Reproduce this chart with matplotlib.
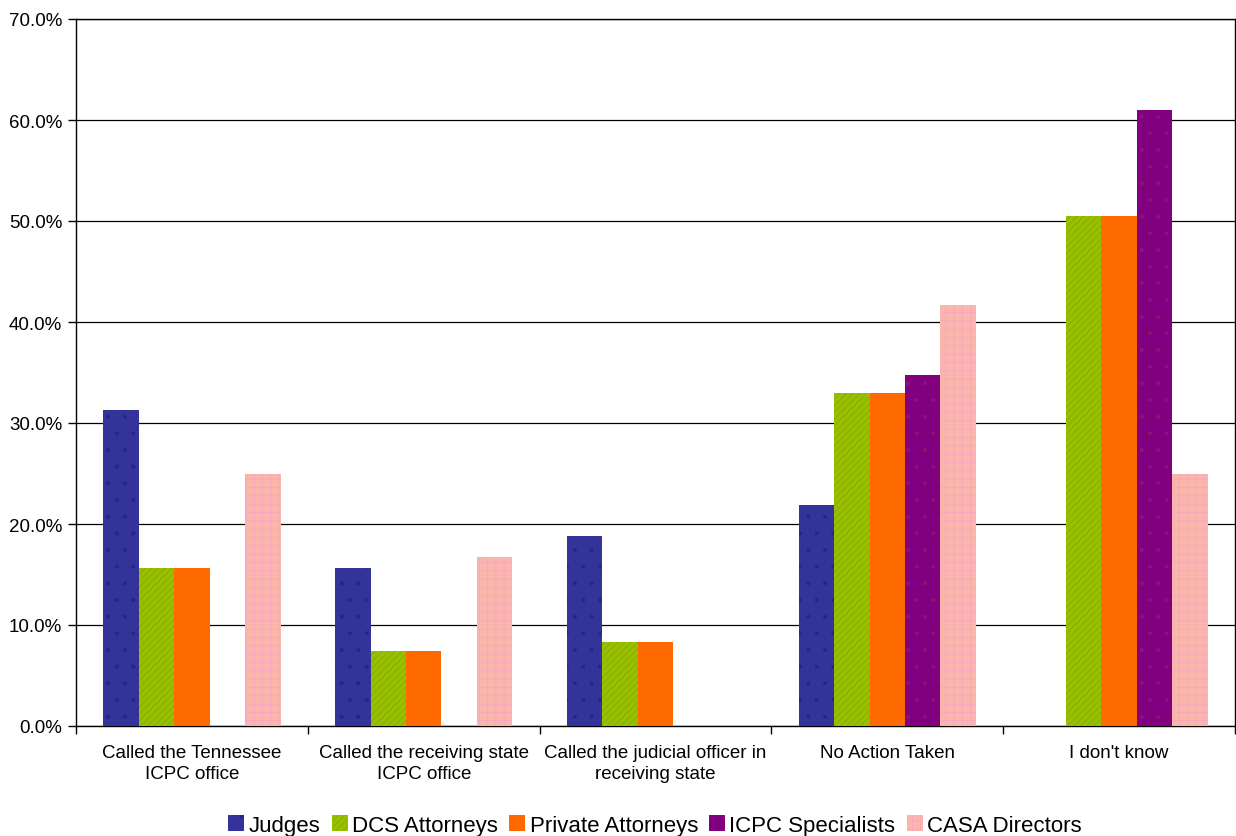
import numpy as np
import matplotlib.pyplot as plt
from matplotlib.ticker import FuncFormatter, FixedLocator

plt.rcParams['font.family'] = ['Liberation Sans', 'DejaVu Sans']
plt.rcParams['hatch.linewidth'] = 0.5

categories = ["Called the Tennessee\nICPC office",
              "Called the receiving state\nICPC office",
              "Called the judicial officer in\nreceiving state",
              "No Action Taken",
              "I don't know"]
series = ["Judges", "DCS Attorneys", "Private Attorneys", "ICPC Specialists", "CASA Directors"]
judges = [31.3, 15.6, 18.8, 21.9, 0.0]
dcs = [15.6, 7.4, 8.3, 33.0, 50.5]
private = [15.6, 7.4, 8.3, 33.0, 50.5]
icpc = [0.0, 0.0, 0.0, 34.8, 61.0]
casa = [25.0, 16.7, 0.0, 41.7, 25.0]
values = [judges, dcs, private, icpc, casa]

colors = ["#333399", "#99c000", "#ff6a00", "#800080", "#fbb6ac"]
hatch_colors = ["#262688", "#7fa800", "#ff7e10", "#8c1470", "#f7a2c4"]
hatches = [".", "/////", "", ".", "++"]

fig = plt.figure(figsize=(12.36, 8.37), dpi=100)
ax = fig.add_axes([76/1236, 1 - 727/837, (1235-76)/1236, (727-20)/837])

x = np.arange(len(categories))
w = 0.153
for i, (name, vals) in enumerate(zip(series, values)):
    ax.bar(x + (i - 2) * w, vals, w, color=colors[i], edgecolor=hatch_colors[i],
           hatch=hatches[i], linewidth=0, label=name, zorder=3)

ax.set_xlim(-0.5, len(categories) - 0.5)
ax.set_ylim(0, 70)
ax.set_yticks(np.arange(0, 71, 10))
ax.yaxis.set_major_formatter(FuncFormatter(lambda v, p: f"{v:.1f}%"))
ax.yaxis.grid(True, color="black", linewidth=0.9, zorder=0)

ax.set_xticks(x)
ax.set_xticklabels(categories, fontsize=13.5, linespacing=1.3)
ax.tick_params(axis="x", which="major", length=0, pad=13)
ax.xaxis.set_minor_locator(FixedLocator(np.arange(-0.5, len(categories), 1.0)))
ax.tick_params(axis="x", which="minor", length=6, width=1, direction="out")
ax.tick_params(axis="y", length=6, width=1, direction="out", labelsize=13.5, pad=4)

for s in ax.spines.values():
    s.set_linewidth(1)
    s.set_color("black")

leg = fig.legend(loc="lower center", bbox_to_anchor=(655/1236, -0.018), ncol=5, frameon=False,
                 fontsize=16, handlelength=0.72, handleheight=0.72, handletextpad=0.2,
                 columnspacing=0.5, borderaxespad=0.3)

fig.savefig("out.png", dpi=100)
